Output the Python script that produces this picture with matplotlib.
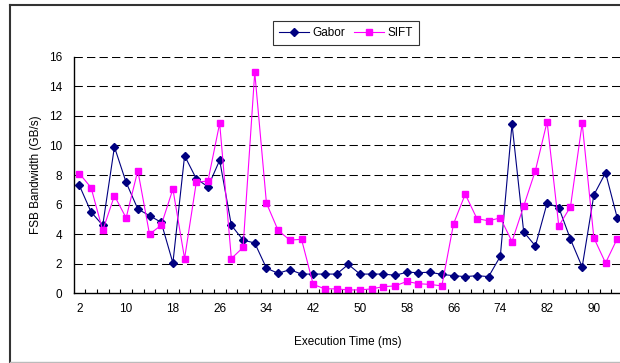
import matplotlib
matplotlib.use("Agg")
import matplotlib.pyplot as plt
from matplotlib.lines import Line2D

plt.rcParams['font.family'] = ['Liberation Sans', 'DejaVu Sans']

# execution time categories (ms)
times = [2, 4, 6, 8, 10, 12, 14, 16, 18, 20, 22, 24, 26, 28, 30, 32,
         34, 36, 38, 40, 42, 44, 46, 48, 50, 52, 54, 56, 58, 60, 62, 64,
         66, 68, 70, 72, 74, 76, 78, 80, 82, 84, 86, 88, 90, 92, 94]
# FSB bandwidth (GB/s)
gabor = [7.3, 5.5, 4.6, 9.9, 7.5, 5.7, 5.25, 4.8, 2.05, 9.3, 7.75, 7.2, 9.0, 4.6, 3.6, 3.4,
         1.7, 1.35, 1.6, 1.3, 1.3, 1.3, 1.3, 1.95, 1.3, 1.3, 1.3, 1.22, 1.42, 1.4, 1.42, 1.28,
         1.19, 1.13, 1.19, 1.13, 2.5, 11.45, 4.15, 3.2, 6.1, 5.8, 3.65, 1.78, 6.65, 8.15, 5.1]
sift = [8.1, 7.15, 4.25, 6.6, 5.1, 8.3, 4.0, 4.6, 7.05, 2.35, 7.5, 7.6, 11.5, 2.35, 3.1, 14.95,
        6.1, 4.25, 3.6, 3.65, 0.6, 0.3, 0.3, 0.23, 0.23, 0.3, 0.45, 0.5, 0.8, 0.65, 0.6, 0.5,
        4.7, 6.7, 5.05, 4.9, 5.1, 3.5, 5.9, 8.3, 11.6, 4.55, 5.85, 11.5, 3.75, 2.05, 3.7]
yticks = [0, 2, 4, 6, 8, 10, 12, 14, 16]

fig = plt.figure(figsize=(6.2, 3.63), dpi=100)
W, H = 620, 363
ax = fig.add_axes([73.5 / W, 69.7 / H, 549.6 / W, 236.6 / H])

idx = list(range(len(times)))
ax.plot(idx, gabor, color='#000080', lw=0.8, marker='D', ms=4.2, label='Gabor')
ax.plot(idx, sift, color='#FF00FF', lw=0.8, marker='s', ms=4.8, label='SIFT')

ax.set_xlim(-0.5, len(times) - 0.5)
ax.set_ylim(0, 16)
ax.set_yticks(yticks)
for y in yticks[1:]:
    ax.axhline(y, color='black', lw=0.75, ls=(0, (8, 4)), zorder=0)

ax.set_xticks(idx[::4])
ax.set_xticklabels([str(t) for t in times[::4]])
ax.set_xticks([i - 0.5 for i in idx[1:]], minor=True)
ax.tick_params(axis='x', which='major', length=0, pad=7, labelsize=8.5)
ax.tick_params(axis='x', which='minor', direction='in', length=3, width=0.8)
ax.tick_params(axis='y', direction='in', length=0, pad=8, labelsize=8.5)

for s in ['top', 'right']:
    ax.spines[s].set_visible(False)
for s in ['left', 'bottom']:
    ax.spines[s].set_linewidth(1.0)

ax.set_xlabel('Execution Time (ms)', fontsize=8.5, labelpad=15)
ax.set_ylabel('FSB Bandwidth (GB/s)', fontsize=8.5, labelpad=5)

leg = fig.legend(loc='center', bbox_to_anchor=(346 / W, 1 - 33 / H), ncol=2,
                 fontsize=8.5, frameon=True, fancybox=False, edgecolor='black',
                 handlelength=2.5, columnspacing=0.8, handletextpad=0.3,
                 borderpad=0.5)
leg.get_frame().set_linewidth(0.8)

# chart area border
fig.add_artist(Line2D([10 / W, 10 / W], [1 / H, 1 - 5 / H], color='#333333', lw=1.5))
fig.add_artist(Line2D([10 / W, 1], [1 - 5 / H, 1 - 5 / H], color='#333333', lw=1.5))
fig.add_artist(Line2D([10 / W, 1], [1.5 / H, 1.5 / H], color='#BBBBBB', lw=1.0))

fig.savefig('out.png', dpi=100)
